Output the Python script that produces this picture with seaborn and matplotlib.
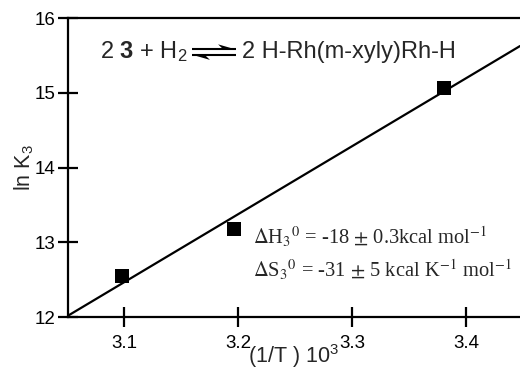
import matplotlib
matplotlib.use("Agg")
import matplotlib.pyplot as plt
import seaborn as sns
import pandas as pd

# data
inv_T = [3.098, 3.196, 3.380]
lnK = [12.55, 13.18, 15.07]
x_ticks = [3.1, 3.2, 3.3, 3.4]
y_ticks = [12, 13, 14, 15, 16]
x_lim = (3.051, 3.447)
y_lim = (12, 16)

df = pd.DataFrame({"x": inv_T, "y": lnK})

sns.set_theme(style="ticks")
plt.rcParams["font.family"] = ["Liberation Sans", "DejaVu Sans"]
plt.rcParams["mathtext.rm"] = "Liberation Sans"
plt.rcParams["mathtext.it"] = "Liberation Sans:italic"
plt.rcParams["mathtext.bf"] = "Liberation Sans:bold"

fig = plt.figure(figsize=(5.2, 3.73), dpi=100)
ax = fig.add_axes([0.1308, 0.150, 0.8692, 0.8017])
ax.set_xlim(*x_lim)
ax.set_ylim(*y_lim)

sns.regplot(data=df, x="x", y="y", ax=ax, ci=None, truncate=False,
            marker="s", color="black",
            scatter_kws=dict(s=90, linewidths=0, zorder=3, alpha=1, color="black"),
            line_kws=dict(lw=1.6, color="black"))
ax.set_xlim(*x_lim)
ax.set_ylim(*y_lim)

ax.set_xticks(x_ticks)
ax.set_yticks(y_ticks)
ax.set_xticklabels([f"{v:.1f}" for v in x_ticks])
ax.set_yticklabels([str(v) for v in y_ticks])
ax.tick_params(direction="inout", length=14, width=1.6, labelsize=13.5,
               colors="black")
ax.tick_params(axis="x", pad=6)
ax.tick_params(axis="y", pad=2)
for s in ["left", "bottom", "top"]:
    ax.spines[s].set_linewidth(1.6)
    ax.spines[s].set_color("black")
ax.spines["right"].set_visible(False)

ax.set_xlabel(r"(1/T ) 10$^\mathrm{3}$", fontsize=15.5, labelpad=-7,
              math_fontfamily="custom")
ax.set_ylabel(r"ln K$_\mathrm{3}$", fontsize=15.5, labelpad=-1,
              math_fontfamily="custom")

# reaction equation: left side, equilibrium harpoons, right side
ax.text(0.0708, 0.887, r"2 $\mathbf{3}$ + H$_\mathrm{2}$",
        transform=ax.transAxes, fontsize=17, va="center", ha="left",
        math_fontfamily="custom")
ax.text(0.385, 0.887, "2 H-Rh(m-xyly)Rh-H",
        transform=ax.transAxes, fontsize=17, va="center", ha="left")
tA = ax.transAxes
ax.plot([0.274, 0.372], [0.896, 0.896], color="black", lw=1.5,
        transform=tA, solid_capstyle="butt")
ax.fill([0.372, 0.332, 0.344], [0.8945, 0.912, 0.8945], color="black",
        transform=tA, lw=0)
ax.plot([0.274, 0.372], [0.876, 0.876], color="black", lw=1.5,
        transform=tA, solid_capstyle="butt")
ax.fill([0.274, 0.314, 0.302], [0.8775, 0.860, 0.8775], color="black",
        transform=tA, lw=0)

ax.text(0.41, 0.267, r"$\Delta$H$_3$$^0$ = -18 $\pm$ 0.3kcal mol$^{-1}$",
        transform=ax.transAxes, fontsize=14.8, va="center", ha="left",
        math_fontfamily="stix", family="Liberation Serif")
ax.text(0.41, 0.157, r"$\Delta$S$_3$$^0$ = -31 $\pm$ 5 kcal K$^{-1}$ mol$^{-1}$",
        transform=ax.transAxes, fontsize=14.8, va="center", ha="left",
        math_fontfamily="stix", family="Liberation Serif")

fig.savefig("out.png", dpi=100)
